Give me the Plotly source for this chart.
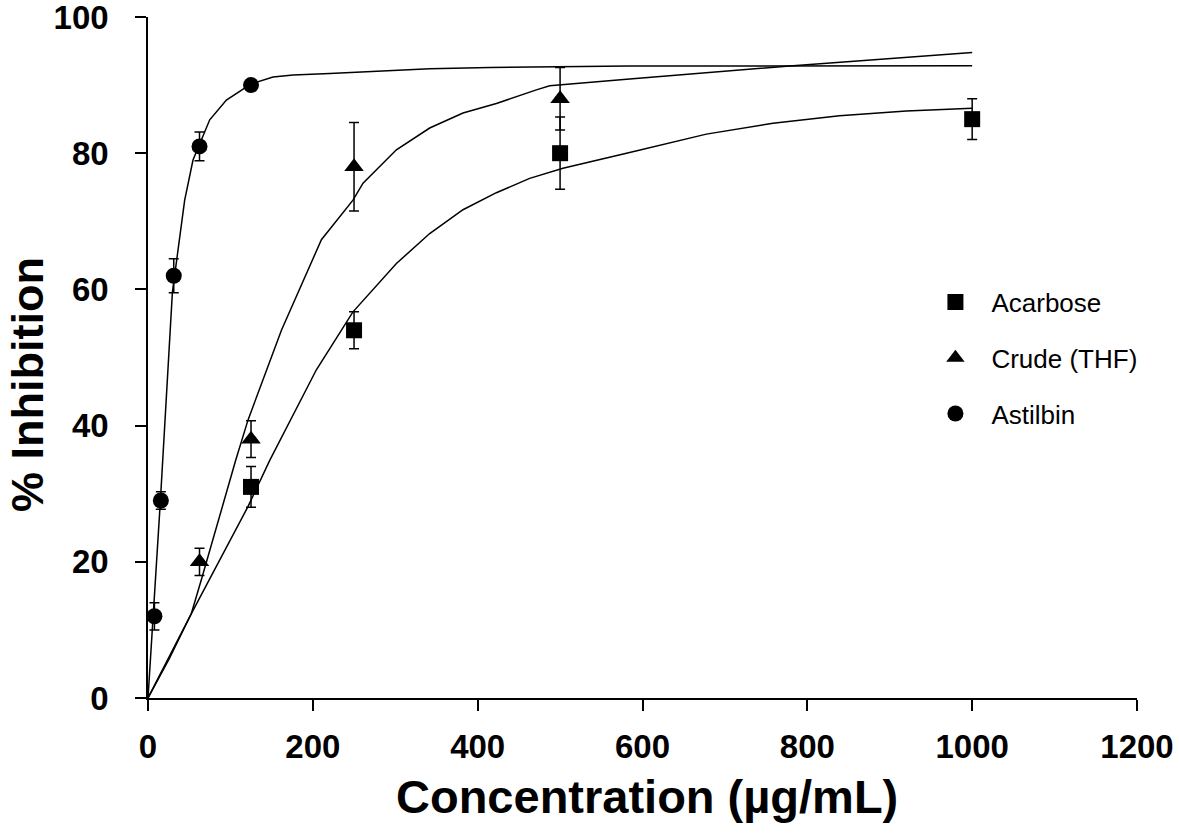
import plotly.graph_objects as go

# ---- measured data ----
acarbose_x = [125, 250, 500, 1000]
acarbose_y = [31, 54, 80, 85]
acarbose_err = [3, 2.7, 5.3, 3]

crude_x = [62.5, 125, 250, 500]
crude_y = [20, 38, 78, 88]
crude_err = [2, 2.7, 6.5, 4.6]

astilbin_x = [7.8, 15.6, 31.25, 62.5, 125]
astilbin_y = [12, 29, 62, 81, 90]
astilbin_err = [2, 1.3, 2.5, 2.1, 0]

# ---- fitted curves ----
acarbose_fit_x = [0, 26, 52.6, 74.9, 99.1, 121.3, 147.7, 204.3, 248.7, 301.4, 341.8,
                  382.2, 422.7, 463.1, 503.5, 544, 584.4, 677.5, 758.3, 839, 920.2, 1000]
acarbose_fit_y = [0, 6.2, 12.4, 17.5, 23.0, 28.1, 34.9, 48.2, 56.7, 63.8, 68.2,
                  71.7, 74.2, 76.3, 77.8, 79.0, 80.1, 82.8, 84.4, 85.5, 86.2, 86.6]

crude_fit_x = [0, 26, 52.6, 64.8, 106.4, 121.3, 161.9, 210.4, 248.7, 260.9, 301.4,
               341.8, 382.2, 422.7, 471.2, 487.4, 584.4, 778.5, 1000]
crude_fit_y = [0, 5.8, 12.4, 17.4, 34.9, 40.8, 54.0, 67.3, 73.1, 75.6, 80.5,
               83.7, 85.9, 87.3, 89.3, 89.9, 90.9, 92.8, 94.8]

astilbin_fit_x = [0, 6.1, 15.0, 29.6, 37.6, 44.5, 54.6, 74.9, 95.1, 125.5, 151.7,
                  176.1, 220.5, 341.8, 414.6, 584, 1000]
astilbin_fit_y = [0, 11.9, 28.9, 59.6, 67.3, 73.1, 79.0, 84.9, 87.8, 90.2, 91.2,
                  91.5, 91.7, 92.4, 92.6, 92.8, 92.85]

x_ticks = [0, 200, 400, 600, 800, 1000, 1200]
y_ticks = [0, 20, 40, 60, 80, 100]

FONT = "Liberation Sans, Arial, sans-serif"
LINE = dict(color="black", width=1.5)

fig = go.Figure()

for fx, fy in [(acarbose_fit_x, acarbose_fit_y), (crude_fit_x, crude_fit_y),
               (astilbin_fit_x, astilbin_fit_y)]:
    fig.add_trace(go.Scatter(x=fx, y=fy, mode="lines", line=LINE,
                             showlegend=False, hoverinfo="skip", cliponaxis=False))

def err(a):
    return dict(type="data", array=a, visible=True, color="black",
                thickness=1.5, width=5)

fig.add_trace(go.Scatter(x=acarbose_x, y=acarbose_y, mode="markers", name="Acarbose",
                         legendgroup="a",
                         marker=dict(symbol="square", size=16, color="black"),
                         error_y=err(acarbose_err), cliponaxis=False))
fig.add_trace(go.Scatter(x=crude_x, y=crude_y, mode="markers", name="Crude (THF)",
                         legendgroup="b",
                         marker=dict(symbol="triangle-up", size=17, color="black"),
                         error_y=err(crude_err), cliponaxis=False))
fig.add_trace(go.Scatter(x=astilbin_x, y=astilbin_y, mode="markers", name="Astilbin",
                         legendgroup="c",
                         marker=dict(symbol="circle", size=16, color="black"),
                         error_y=err(astilbin_err), cliponaxis=False))

axis_common = dict(showline=True, linecolor="black", linewidth=1.5, ticks="outside",
                   ticklen=11, tickwidth=1.5, tickcolor="black", showgrid=False,
                   zeroline=False, ticklabeloverflow="allow",
                   tickfont=dict(family=FONT, size=33, color="black", weight="bold"))

fig.update_xaxes(range=[0, 1200], tickvals=x_ticks, ticktext=[str(v) for v in x_ticks],
                 ticklabelstandoff=8, **axis_common)
fig.update_yaxes(range=[0, 100], tickvals=y_ticks, ticktext=[str(v) for v in y_ticks],
                 ticklabelstandoff=20, **axis_common)

fig.update_layout(
    width=1179, height=840,
    margin=dict(l=148, r=42, t=17, b=142, autoexpand=False),
    paper_bgcolor="white", plot_bgcolor="white",
    showlegend=True,
    legend=dict(x=0.78, y=0.616, xanchor="left", yanchor="top",
                font=dict(family=FONT, size=26, color="black"),
                itemwidth=62,
                tracegroupgap=19, bgcolor="rgba(0,0,0,0)"),
    annotations=[
        dict(text="Concentration (µg/mL)", xref="paper", yref="paper",
             x=0.505, y=-0.145, xanchor="center", yanchor="middle", showarrow=False,
             font=dict(family=FONT, size=47, color="black", weight="bold")),
        dict(text="% Inhibition", xref="paper", yref="paper",
             x=-0.122, y=0.46, xanchor="center", yanchor="middle", showarrow=False,
             textangle=-90,
             font=dict(family=FONT, size=45, color="black", weight="bold")),
    ],
)

fig.write_html("out.html", config={"displayModeBar": False},
               post_script="document.body.style.margin='0';document.body.style.padding='0';")
